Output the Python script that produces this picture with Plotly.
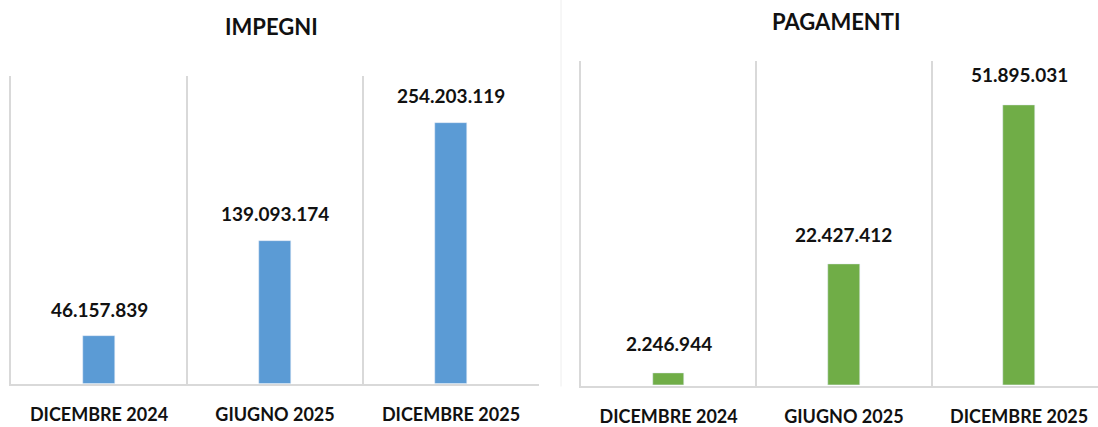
import plotly.graph_objects as go

categories = ["DICEMBRE 2024", "GIUGNO 2025", "DICEMBRE 2025"]
impegni = [46157839, 139093174, 254203119]
pagamenti = [2246944, 22427412, 51895031]
titles = ["IMPEGNI", "PAGAMENTI"]

FONT = "Lato"
BLUE = "#5b9bd5"
GREEN = "#70ad47"
GRID = "#d9d9d9"
TXT = "#111111"

W, H = 1098, 427


def fmt(v):
    return f"{v:,}".replace(",", ".")


def py(y_px):
    """paper fraction for a pixel row measured from the top"""
    return 1 - y_px / H


fig = go.Figure()
fig.add_trace(go.Bar(x=categories, y=impegni, marker_color=BLUE, width=0.18,
                     xaxis="x", yaxis="y", showlegend=False, hoverinfo="skip"))
fig.add_trace(go.Bar(x=categories, y=pagamenti, marker_color=GREEN, width=0.18,
                     xaxis="x2", yaxis="y2", showlegend=False, hoverinfo="skip"))

annotations = []
for c, v in zip(categories, impegni):
    annotations.append(dict(x=c, y=v, xref="x", yref="y", text=fmt(v), showarrow=False,
                            yanchor="middle", yshift=27,
                            font=dict(family=FONT, size=19, color=TXT, weight="bold")))
for c, v in zip(categories, pagamenti):
    annotations.append(dict(x=c, y=v, xref="x2", yref="y2", text=fmt(v), showarrow=False,
                            yanchor="middle", yshift=30,
                            font=dict(family=FONT, size=19, color=TXT, weight="bold")))
annotations.append(dict(x=271 / W, y=py(27), xref="paper", yref="paper", text=titles[0],
                        showarrow=False, xanchor="center", yanchor="middle",
                        font=dict(family=FONT, size=22, color=TXT, weight="bold")))
annotations.append(dict(x=836 / W, y=py(22), xref="paper", yref="paper", text=titles[1],
                        showarrow=False, xanchor="center", yanchor="middle",
                        font=dict(family=FONT, size=22, color=TXT, weight="bold")))

xcommon = dict(type="category", tickson="boundaries", showgrid=True, gridcolor=GRID, gridwidth=1.5,
               showline=True, linecolor=GRID, linewidth=2, ticks="", ticklabelstandoff=14,
               tickfont=dict(family=FONT, size=18, color=TXT, weight="bold"),
               zeroline=False, fixedrange=True)
ycommon = dict(showgrid=False, showticklabels=False, zeroline=False, ticks="",
               showline=True, linecolor=GRID, linewidth=1.5, fixedrange=True)

fig.update_layout(
    width=W, height=H,
    margin=dict(l=0, r=0, t=0, b=0),
    paper_bgcolor="white", plot_bgcolor="white",
    bargap=0,
    xaxis=dict(xcommon, domain=[11 / W, 539 / W], range=[-0.5, 2.5], anchor="y"),
    yaxis=dict(ycommon, domain=[py(389), py(77)], range=[0, 300000000], anchor="x"),
    xaxis2=dict(xcommon, domain=[581 / W, 1.0], range=[-0.5, 2.45], anchor="y2"),
    yaxis2=dict(ycommon, domain=[py(391), py(62)], range=[0, 60000000], anchor="x2"),
    annotations=annotations,
    shapes=[dict(type="line", xref="paper", yref="paper", x0=561 / W, x1=561 / W,
                 y0=py(392), y1=1, line=dict(color="#eeeeee", width=1))],
)

fig.write_html("out.html", config={"displayModeBar": False},
               post_script="document.body.style.margin='0px';")
